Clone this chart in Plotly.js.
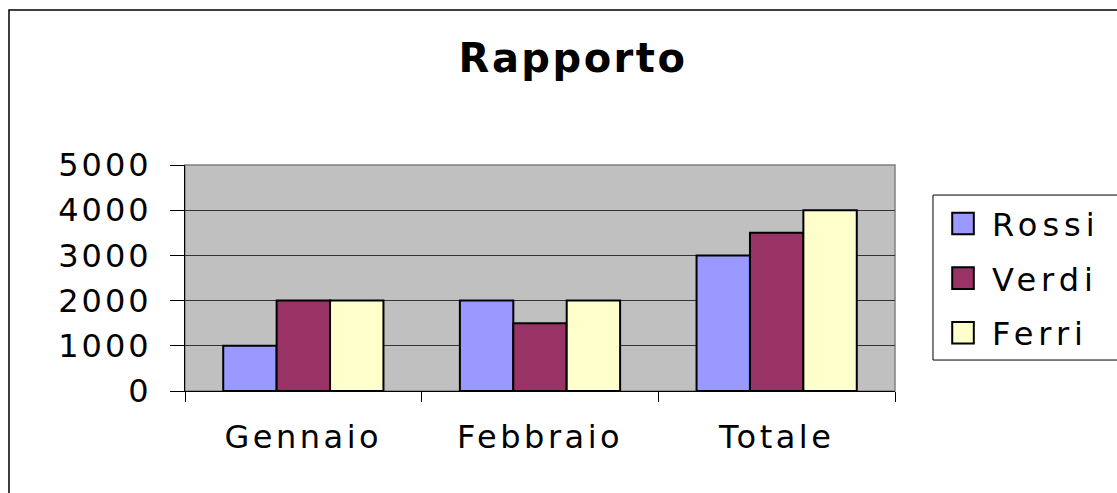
<!DOCTYPE html>
<html>
<head>
<meta charset="utf-8">
<script src="https://cdn.plot.ly/plotly-3.0.1.min.js"></script>
<style>
html,body{margin:0;padding:0;background:#fff;overflow:hidden}
#chart .ytick text{letter-spacing:3px}
#chart .xtick text{letter-spacing:3.5px}
#chart .legendtext{letter-spacing:5px}
#chart .gtitle{letter-spacing:2.5px}
#chart .legend .scrollbox{clip-path:none !important}
#chart .legendpoints path{transform:translate(11px,0) scale(1.8);vector-effect:non-scaling-stroke}
</style>
</head>
<body>
<div id="chart" style="width:1117px;height:493px"></div>
<script>
const categories = ["Gennaio", "Febbraio", "Totale"];
const seriesNames = ["Rossi", "Verdi", "Ferri"];
const rossi = [1000, 2000, 3000];
const verdi = [2000, 1500, 3500];
const ferri = [2000, 2000, 4000];
const colors = ["#9999FF", "#993366", "#FFFFCC"];
const yTicks = [0, 1000, 2000, 3000, 4000, 5000];

const FONT = "DejaVu Sans, Arial, sans-serif";
const values = [rossi, verdi, ferri];
const traces = values.map((v, i) => ({
  type: "bar",
  name: seriesNames[i],
  x: categories,
  y: v,
  legendgroup: "g" + i,
  marker: {color: colors[i], line: {color: "#000", width: 2}},
  hoverinfo: "x+y+name"
}));

const layout = {
  width: 1117, height: 493,
  margin: {l: 185, r: 222, t: 165, b: 102, pad: 0},
  paper_bgcolor: "#fff",
  plot_bgcolor: "#C0C0C0",
  barmode: "group",
  bargap: 0.323,
  bargroupgap: 0,
  title: {
    text: "<b>Rapporto</b>",
    font: {family: FONT, size: 40, color: "#000"},
    x: 0.513, xanchor: "center", xref: "container",
    y: 0.882, yanchor: "middle", yref: "container"
  },
  xaxis: {
    type: "category",
    tickson: "boundaries",
    ticks: "outside", ticklen: 10, tickcolor: "#000", tickwidth: 1,
    showline: true, linecolor: "#000", linewidth: 1,
    showgrid: false,
    tickfont: {family: FONT, size: 32, color: "#000"},
    ticklabelstandoff: 18,
    fixedrange: true
  },
  yaxis: {
    range: [0, 5000],
    tickvals: yTicks,
    ticktext: yTicks.map(String),
    ticks: "outside", ticklen: 14, tickcolor: "#000", tickwidth: 1,
    showline: true, linecolor: "#000", linewidth: 1,
    showgrid: true, gridcolor: "#333", gridwidth: 1,
    zeroline: false,
    tickfont: {family: FONT, size: 32, color: "#000"},
    ticklabelstandoff: 12,
    fixedrange: true
  },
  showlegend: true,
  legend: {
    x: 1.0803, xanchor: "left", xref: "paper",
    y: 0.862, yanchor: "top", yref: "paper",
    borderwidth: 0, bgcolor: "rgba(0,0,0,0)",
    font: {family: FONT, size: 32, color: "#000"},
    tracegroupgap: 10,
    traceorder: "grouped",
    itemwidth: 30
  },
  shapes: [
    {type: "rect", xref: "paper", yref: "paper", x0: 0, x1: 1, y0: 0, y1: 1,
     line: {color: "#808080", width: 1.5}, layer: "below"},
    {type: "rect", xref: "paper", yref: "paper", x0: 1.0535, x1: 1.5, y0: 0.137, y1: 0.867,
     line: {color: "#000", width: 1}, fillcolor: "rgba(0,0,0,0)"},
    {type: "rect", xref: "paper", yref: "paper", x0: -0.2479, x1: 1.5, y0: -0.6, y1: 1.6858,
     line: {color: "#000", width: 1.5}, fillcolor: "rgba(0,0,0,0)"}
  ]
};

Plotly.newPlot("chart", traces, layout, {displayModeBar: false});
</script>
</body>
</html>
